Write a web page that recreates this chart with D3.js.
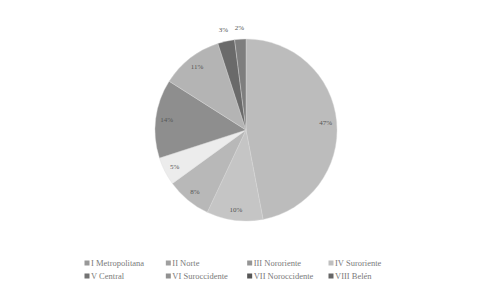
<!DOCTYPE html>
<html>
<head>
<meta charset="utf-8">
<script src="https://cdn.jsdelivr.net/npm/d3@7"></script>
<style>
  body { margin: 0; background: #fff; }
  svg { display: block; }
</style>
</head>
<body>
<div class="chart"></div>
<script>
// regions and their share (%)
var regions = ["I Metropolitana", "II Norte", "III Nororiente", "IV Suroriente",
               "V Central", "VI Suroccidente", "VII Noroccidente", "VIII Belén"];
var shares = [47, 10, 8, 5, 14, 11, 3, 2];
var greys = ["#bcbcbc", "#c5c5c5", "#b8b8b8", "#ececec", "#8e8e8e", "#b4b4b4", "#6a6a6a", "#7e7e7e"];

var width = 482, height = 290;
var cx = 246, cy = 130, radius = 91;

var svg = d3.select(".chart").append("svg")
    .attr("width", width)
    .attr("height", height);

var data = regions.map(function(r, i) { return {name: r, value: shares[i]}; });

var pie = d3.pie().sort(null).value(function(d) { return d.value; });
var arc = d3.arc().innerRadius(0).outerRadius(radius);
var labelArc = d3.arc().innerRadius(radius * 0.88).outerRadius(radius * 0.88);
var outerArc = d3.arc().innerRadius(radius + 12).outerRadius(radius + 12);

var color = d3.scaleOrdinal().domain(regions).range(greys);

var g = svg.append("g").attr("transform", "translate(" + cx + "," + cy + ")");
var arcs = pie(data);

g.selectAll("path")
  .data(arcs)
  .enter().append("path")
    .attr("d", arc)
    .attr("fill", function(d) { return color(d.data.name); })
    .attr("stroke", "#d8d8d8")
    .attr("stroke-width", 0.4);

var total = d3.sum(shares);
g.selectAll("text.lbl")
  .data(arcs)
  .enter().append("text")
    .attr("class", "lbl")
    .attr("transform", function(d) {
      var p = d.data.value < 4 ? outerArc.centroid(d) : labelArc.centroid(d);
      return "translate(" + p + ")";
    })
    .attr("text-anchor", "middle")
    .attr("dy", "0.35em")
    .attr("font-family", "Liberation Serif")
    .attr("font-size", "7px")
    .attr("fill", "#555")
    .text(function(d) { return Math.round(d.data.value / total * 100) + "%"; });

// legend, 4 columns x 2 rows
var colX = d3.scalePoint().domain([0, 1, 2, 3]).range([87, 331]);
var rowY = d3.scalePoint().domain([0, 1]).range([263, 276]);

var leg = svg.selectAll("g.leg")
  .data(regions)
  .enter().append("g")
    .attr("class", "leg")
    .attr("transform", function(d, i) {
      return "translate(" + colX(i % 4) + "," + rowY(Math.floor(i / 4)) + ")";
    });

leg.append("rect")
  .attr("x", -2.5)
  .attr("y", -2.5)
  .attr("width", 5)
  .attr("height", 5)
  .attr("fill", function(d) { return d3.color(color(d)).darker(0.6); });

leg.append("text")
  .attr("x", 4)
  .attr("dy", "0.33em")
  .attr("font-family", "Liberation Serif")
  .attr("font-size", "8.5px")
  .attr("fill", "#7a7a7a")
  .text(function(d) { return d; });
</script>
</body>
</html>
